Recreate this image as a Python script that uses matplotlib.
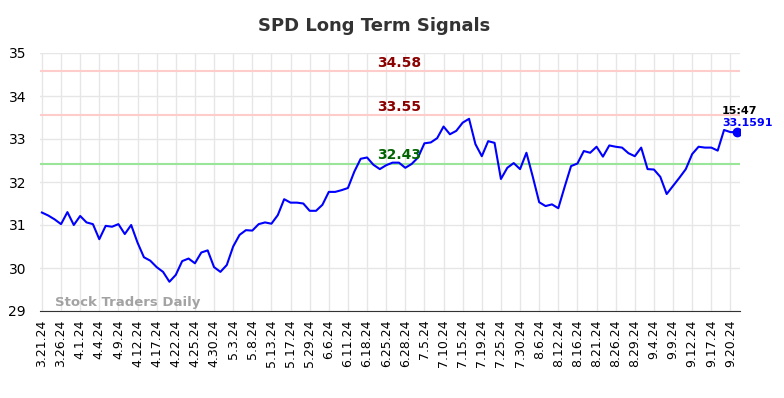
import matplotlib
matplotlib.use("Agg")
import matplotlib.pyplot as plt

tick_labels = ["3.21.24", "3.26.24", "4.1.24", "4.4.24", "4.9.24", "4.12.24", "4.17.24",
               "4.22.24", "4.25.24", "4.30.24", "5.3.24", "5.8.24", "5.13.24", "5.17.24",
               "5.29.24", "6.6.24", "6.11.24", "6.18.24", "6.25.24", "6.28.24", "7.5.24",
               "7.10.24", "7.15.24", "7.19.24", "7.25.24", "7.30.24", "8.6.24", "8.12.24",
               "8.16.24", "8.21.24", "8.26.24", "8.29.24", "9.4.24", "9.9.24", "9.12.24",
               "9.17.24", "9.20.24"]

prices = [31.29, 31.22, 31.13, 31.02, 31.30, 31.00, 31.21, 31.06, 31.02, 30.67,
          30.98, 30.96, 31.02, 30.79, 31.00, 30.59, 30.25, 30.17, 30.02, 29.91,
          29.68, 29.84, 30.16, 30.22, 30.11, 30.36, 30.41, 30.02, 29.91, 30.07,
          30.50, 30.77, 30.88, 30.87, 31.02, 31.06, 31.03, 31.23, 31.60, 31.52,
          31.52, 31.50, 31.33, 31.33, 31.47, 31.77, 31.77, 31.81, 31.86, 32.24,
          32.54, 32.57, 32.40, 32.30, 32.39, 32.45, 32.45, 32.33, 32.42, 32.57,
          32.90, 32.92, 33.02, 33.29, 33.11, 33.19, 33.38, 33.47, 32.88, 32.60,
          32.95, 32.91, 32.07, 32.33, 32.44, 32.30, 32.68, 32.12, 31.53, 31.44,
          31.48, 31.39, 31.89, 32.37, 32.43, 32.72, 32.68, 32.82, 32.59, 32.85,
          32.82, 32.80, 32.67, 32.60, 32.80, 32.30, 32.29, 32.12, 31.72, 31.91,
          32.10, 32.30, 32.65, 32.82, 32.80, 32.80, 32.73, 33.21, 33.16, 33.1591]

levels = [34.58, 33.55, 32.43]
level_line_colors = ["#ffcccc", "#ffcccc", "#99e699"]
level_text_colors = ["#8b0000", "#8b0000", "#006400"]
last_time = "15:47"

fig = plt.figure(figsize=(7.84, 3.98), dpi=100)
ax = fig.add_axes([40 / 784, 1 - 311 / 398, 700 / 784, 258 / 398])

x = list(range(len(prices)))
ax.set_xlim(-0.3, 109.5)
ax.set_ylim(29, 35)

ax.grid(True, color="#e6e6e6", linewidth=1)
ax.set_axisbelow(True)

for lv, lc, tc in zip(levels, level_line_colors, level_text_colors):
    ax.axhline(lv, color=lc, linewidth=1.5, zorder=1)
    ax.text(56, lv + 0.03, f"{lv:.2f}", color=tc, fontsize=10, fontweight="bold",
            ha="center", va="bottom", zorder=4)

ax.plot(x, prices, color="#0000ff", linewidth=1.5, zorder=3)
ax.plot([x[-1]], [prices[-1]], "o", color="#0000ff", markersize=6, zorder=4)

ax.text(x[-1] - 2.3, prices[-1] + 0.38, last_time, color="black", fontsize=8,
        fontweight="bold", ha="left", va="bottom")
ax.text(x[-1] - 2.3, prices[-1] + 0.10, f"{prices[-1]:.4f}", color="#0000ff", fontsize=8,
        fontweight="bold", ha="left", va="bottom")

ax.text(2.0, 29.04, "Stock Traders Daily", color="#999999", fontsize=9.5,
        fontweight="bold", ha="left", va="bottom", alpha=0.9)

ax.set_xticks(list(range(0, 3 * len(tick_labels), 3)))
ax.set_xticklabels(tick_labels, rotation=90, fontsize=9)
ax.set_yticks([29, 30, 31, 32, 33, 34, 35])
ax.tick_params(axis="y", labelsize=10, length=0, pad=10)
ax.tick_params(axis="x", length=0, pad=6)

for s in ["left", "right", "top"]:
    ax.spines[s].set_visible(False)
ax.spines["bottom"].set_color("#333333")

fig.text(374 / 784, 1 - 26 / 398, "SPD Long Term Signals", fontsize=13,
         fontweight="bold", color="#333333", ha="center", va="center")

fig.savefig("out.png", dpi=100)
